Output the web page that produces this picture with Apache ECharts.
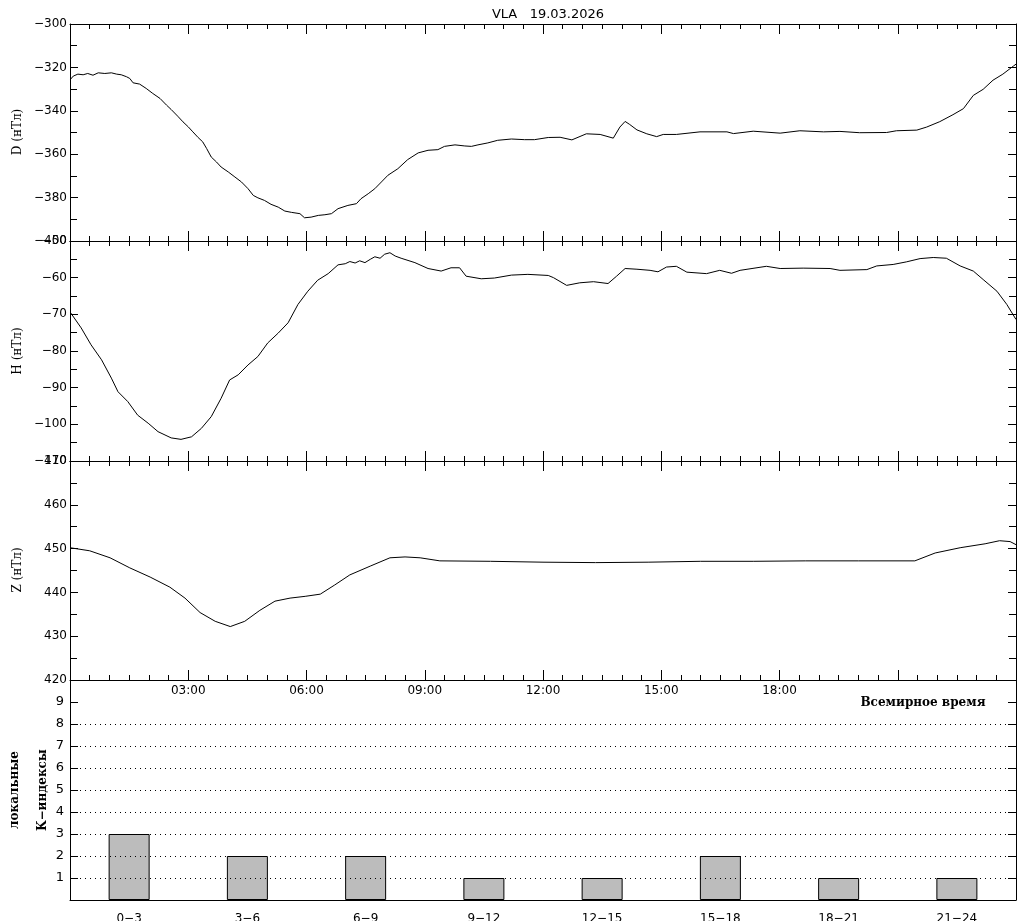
<!DOCTYPE html>
<html><head><meta charset="utf-8">
<script src="https://cdn.jsdelivr.net/npm/echarts@6/dist/echarts.min.js"></script>
<style>html,body{margin:0;padding:0;background:#fff}#c{width:1024px;height:921px}</style>
</head><body><div id="c"></div>
<script>
const chartTitle = 'VLA   19.03.2026';
const dMinutes = [1,5,12,20,27,35,43,53,63,71,78,86,91,96,106,116,126,137,147,154,164,172,180,187,195,202,208,215,223,230,241,251,261,271,279,286,296,306,317,327,337,350,357,367,378,388,398,408,423,436,443,454,464,474,484,499,514,530,545,560,570,586,601,611,621,636,651,672,692,707,728,746,764,786,807,827,837,845,852,863,878,893,903,923,959,1000,1010,1040,1081,1111,1147,1172,1202,1243,1258,1289,1304,1324,1344,1360,1375,1390,1405,1420,1436,1440];
const dValues = [-325.4,-324.0,-323.1,-323.4,-322.8,-323.6,-322.5,-322.8,-322.5,-323.1,-323.4,-324.3,-325.1,-327.1,-327.7,-329.7,-332.0,-334.3,-337.4,-339.4,-342.5,-345.1,-347.4,-349.7,-352.3,-354.3,-357.4,-361.3,-363.6,-365.9,-368.2,-370.5,-372.8,-375.9,-379.0,-380.1,-381.3,-383.1,-384.4,-386.2,-386.8,-387.4,-389.3,-389.0,-388.2,-387.9,-387.4,-385.1,-383.6,-382.8,-380.5,-378.2,-375.9,-372.8,-369.7,-366.7,-362.5,-359.4,-358.2,-357.9,-356.4,-355.7,-356.2,-356.4,-355.7,-354.8,-353.6,-353.0,-353.3,-353.3,-352.3,-352.2,-353.4,-350.6,-350.9,-352.6,-347.5,-344.9,-346.3,-348.8,-350.6,-351.9,-350.9,-350.9,-349.7,-349.7,-350.5,-349.4,-350.3,-349.2,-349.7,-349.5,-350.1,-350.0,-349.2,-348.9,-347.5,-345.0,-341.8,-339.0,-332.9,-330.1,-325.9,-323.1,-319.4,-318.5];
const hMinutes = [1,17,32,48,63,73,88,103,119,134,154,169,185,200,215,230,243,256,271,286,301,317,332,347,362,377,393,408,419,426,434,441,449,457,464,472,479,487,495,504,525,545,565,580,593,603,626,646,672,697,728,736,756,776,797,819,832,845,863,883,895,908,923,939,969,989,1007,1020,1060,1081,1116,1157,1172,1213,1228,1253,1273,1294,1314,1334,1355,1375,1390,1411,1426,1440];
const hValues = [-69.6,-73.7,-78.3,-82.4,-87.4,-91.1,-93.8,-97.5,-99.7,-102.0,-103.7,-104.1,-103.4,-101.1,-97.9,-92.9,-87.9,-86.5,-83.8,-81.5,-77.8,-75.1,-72.3,-67.3,-63.7,-60.7,-58.9,-56.5,-56.2,-55.6,-56.0,-55.4,-55.9,-55.0,-54.3,-54.7,-53.6,-53.2,-54.1,-54.7,-55.9,-57.5,-58.2,-57.3,-57.3,-59.6,-60.3,-60.1,-59.3,-59.1,-59.4,-60.0,-62.1,-61.4,-61.1,-61.6,-59.6,-57.5,-57.7,-58.0,-58.4,-57.1,-56.9,-58.5,-58.9,-58.0,-58.8,-58.0,-56.9,-57.5,-57.4,-57.5,-58.0,-57.8,-56.8,-56.4,-55.7,-54.8,-54.5,-54.7,-56.8,-58.2,-60.5,-63.7,-67.3,-71.4];
const zMinutes = [0,30,61,91,122,152,175,198,221,244,266,289,312,335,358,381,403,426,457,487,510,533,563,640,720,800,880,960,1040,1120,1200,1286,1317,1355,1393,1415,1431,1440];
const zValues = [450.2,449.5,447.9,445.6,443.5,441.2,438.7,435.4,433.4,432.2,433.4,435.9,438.0,438.7,439.1,439.6,441.7,444.0,446.0,447.9,448.1,447.9,447.2,447.1,446.9,446.8,446.9,447.1,447.1,447.2,447.2,447.2,449.0,450.2,451.1,451.8,451.6,450.9];
const kCategories = ['0\u22123','3\u22126','6\u22129','9\u221212','12\u221215','15\u221218','18\u221221','21\u221224'];
const kValues = [3,2,2,1,1,2,1,1];
const kGridLevels = [1,2,3,4,5,6,7,8];
const timeTickLabels = ['03:00','06:00','09:00','12:00','15:00','18:00'];

const pairs = (m, v) => m.map((t, i) => [t, v[i]]);
const minus = v => String(v).replace('-', '\u2212');
const FONT = 'DejaVu Sans';
const SERIF = 'DejaVu Serif';

const gridBase = {left: 70, width: 946, containLabel: false, outerBoundsMode: 'none'};
const grids = [
  Object.assign({top: 24, height: 217}, gridBase),
  Object.assign({top: 241, height: 220}, gridBase),
  Object.assign({top: 461, height: 219}, gridBase),
  Object.assign({top: 680, height: 220}, gridBase)
];

const lineAx = {lineStyle: {color: '#000', width: 1}};
function timeAxis(gi, pos, labels) {
  return {
    type: 'value', gridIndex: gi, position: pos, min: 0, max: 1440, interval: 180,
    axisLine: lineAx,
    axisTick: {show: true, inside: true, length: 10, lineStyle: {color: '#000'}},
    minorTick: {show: true, splitNumber: 6, length: 5, lineStyle: {color: '#000'}},
    splitLine: {show: false}, minorSplitLine: {show: false},
    axisLabel: labels ? {
      show: true, margin: 5, color: '#000', fontFamily: FONT, fontSize: 12,
      formatter: v => { const i = v / 180 - 1; return (i >= 0 && i < timeTickLabels.length) ? timeTickLabels[i] : ''; }
    } : {show: false}
  };
}
function valAxis(gi, pos, min, max, interval, labels) {
  return {
    type: 'value', gridIndex: gi, position: pos, min: min, max: max, interval: interval,
    axisLine: {show: true, onZero: false, lineStyle: {color: '#000', width: 1}},
    axisTick: {show: true, inside: true, length: 8, lineStyle: {color: '#000'}},
    minorTick: {show: true, splitNumber: 2, length: 7, lineStyle: {color: '#000'}},
    splitLine: {show: false}, minorSplitLine: {show: false},
    axisLabel: labels ? {show: true, margin: 3, color: '#000', fontFamily: FONT, fontSize: 12, formatter: minus} : {show: false}
  };
}

const xAxes = [
  timeAxis(0, 'bottom', false), timeAxis(0, 'top', false),
  timeAxis(1, 'bottom', false), timeAxis(1, 'top', false),
  timeAxis(2, 'bottom', true), timeAxis(2, 'top', false),
  {
    type: 'category', gridIndex: 3, position: 'bottom', data: kCategories,
    axisLine: lineAx, axisTick: {show: false},
    axisLabel: {show: true, margin: 13, color: '#000', fontFamily: FONT, fontSize: 12}
  }
];
const kAxis = (pos, labels) => ({
  type: 'value', gridIndex: 3, position: pos, min: 0, max: 10, interval: 1,
  axisLine: {show: true, lineStyle: {color: '#000', width: 1}},
  axisTick: {show: true, inside: true, length: 8, lineStyle: {color: '#000'}},
  splitLine: {show: false},
  axisLabel: labels ? {show: true, margin: 6, color: '#000', fontFamily: FONT, fontSize: 13,
    formatter: v => (v > 0 && v < 10) ? String(v) : ''} : {show: false}
});
const yAxes = [
  valAxis(0, 'left', -400, -300, 20, true), valAxis(0, 'right', -400, -300, 20, false),
  valAxis(1, 'left', -110, -50, 10, true), valAxis(1, 'right', -110, -50, 10, false),
  valAxis(2, 'left', 420, 470, 10, true), valAxis(2, 'right', 420, 470, 10, false),
  kAxis('left', true), kAxis('right', false)
];

const lineSeries = (data, xi, yi) => ({
  type: 'line', data: data, xAxisIndex: xi, yAxisIndex: yi, showSymbol: false, symbol: 'none',
  lineStyle: {color: '#000', width: 1}, silent: true, animation: false
});

const vText = (x, y, text, font, size, weight) => ({
  type: 'text', x: x, y: y, rotation: Math.PI / 2,
  style: {text: text, fill: '#000', font: (weight || 'normal') + ' ' + size + 'px "' + font + '"', textAlign: 'center', textVerticalAlign: 'middle'}
});

const option = {
  backgroundColor: '#fff',
  animation: false,
  title: {text: chartTitle, left: 543, top: 3, textAlign: 'center',
    textStyle: {color: '#000', fontFamily: FONT, fontSize: 13, fontWeight: 'normal'}},
  grid: grids,
  xAxis: xAxes,
  yAxis: yAxes,
  series: [
    lineSeries(pairs(dMinutes, dValues), 0, 0),
    lineSeries(pairs(hMinutes, hValues), 2, 2),
    lineSeries(pairs(zMinutes, zValues), 4, 4),
    {
      type: 'bar', data: kValues, xAxisIndex: 6, yAxisIndex: 6, barWidth: 41,
      itemStyle: {color: '#bcbcbc', borderColor: '#000', borderWidth: 1}, silent: true,
      markLine: {
        silent: true, symbol: 'none', label: {show: false}, animation: false,
        lineStyle: {color: '#000', type: [1, 4], width: 1},
        data: kGridLevels.map(l => ({yAxis: l}))
      }
    }
  ],
  graphic: [
    vText(18, 132, 'D (нТл)', SERIF, 12),
    vText(18, 351, 'H (нТл)', SERIF, 12),
    vText(18, 570, 'Z (нТл)', SERIF, 12),
    vText(15, 790, 'локальные', SERIF, 12, 'bold'),
    vText(43, 790, 'K\u2212индексы', SERIF, 12, 'bold'),
    {type: 'text', x: 923, y: 703, style: {text: 'Всемирное время', fill: '#000',
      font: 'bold 12px "DejaVu Serif"', textAlign: 'center', textVerticalAlign: 'middle'}}
  ]
};
const chart = echarts.init(document.getElementById('c'), null, {renderer: 'canvas'});
chart.setOption(option);
</script></body></html>
